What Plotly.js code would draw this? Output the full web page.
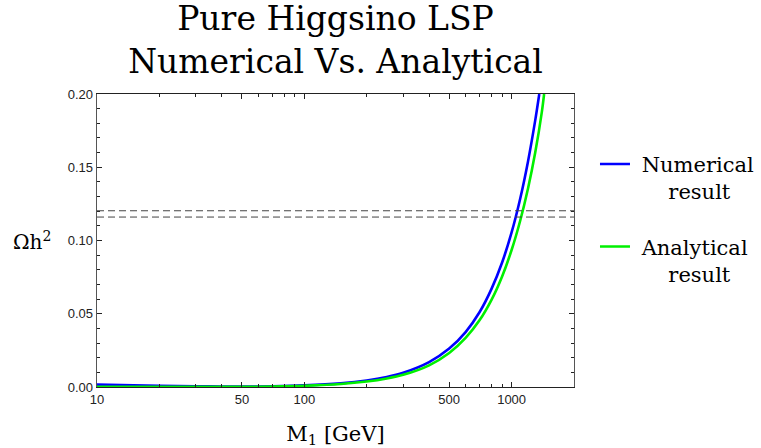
<!DOCTYPE html>
<html>
<head>
<meta charset="utf-8">
<script src="https://cdn.plot.ly/plotly-3.0.1.min.js"></script>
<style>html,body{margin:0;padding:0;background:#fff;}#chart{width:761px;height:448px;}</style>
</head>
<body>
<div id="chart"></div>
<script>
// M1 in GeV
const massNumerical = [10, 15, 20, 30, 40, 50, 70, 100, 150, 200, 250, 300, 400, 500, 600, 700, 800, 900, 1000, 1100, 1200, 1300, 1360];
const omegaNumerical = [0.0016, 0.0012, 0.0009, 0.0005, 0.0003, 0.0003, 0.0005, 0.0011, 0.0025, 0.0044, 0.0068, 0.0097, 0.0170, 0.0262, 0.0375, 0.0510, 0.0670, 0.0850, 0.1055, 0.1285, 0.1540, 0.1820, 0.2000];
const massAnalytical = [10, 20, 30, 50, 70, 100, 150, 200, 250, 300, 400, 500, 600, 700, 800, 900, 1000, 1100, 1200, 1300, 1400, 1435];
const omegaAnalytical = [0.0001, 0.0001, 0.0001, 0.0001, 0.0003, 0.0008, 0.0020, 0.0037, 0.0058, 0.0083, 0.0148, 0.0232, 0.0335, 0.0455, 0.0595, 0.0755, 0.0935, 0.1135, 0.1355, 0.1600, 0.1880, 0.2000];
const relicBand = [0.1160, 0.1203];
const xTickVals = [10, 50, 100, 500, 1000];
const xTickText = ['10', '50', '100', '500', '1000'];
const xMinorVals = [20, 30, 40, 60, 70, 80, 90, 200, 300, 400, 600, 700, 800, 900];
const seriesNames = ['\u00a0Numerical<br>\u00a0\u00a0\u00a0\u00a0\u00a0result', '\u00a0Analytical<br>\u00a0\u00a0\u00a0\u00a0\u00a0result'];

const serif = 'DejaVu Serif, serif';
const sans = 'Liberation Sans, Arial, sans-serif';

const traces = [
  {x: massNumerical, y: omegaNumerical, type: 'scatter', mode: 'lines', name: seriesNames[0],
   legendgroup: 'a', line: {color: '#0000ff', width: 2.6, shape: 'spline', smoothing: 0.8}},
  {x: massAnalytical, y: omegaAnalytical, type: 'scatter', mode: 'lines', name: seriesNames[1],
   legendgroup: 'b', line: {color: '#00f000', width: 2.6, shape: 'spline', smoothing: 0.8}}
];

const shapes = relicBand.map(v => ({
  type: 'line', xref: 'paper', yref: 'y', x0: 0, x1: 1, y0: v, y1: v,
  line: {color: '#444', width: 1, dash: '7px,4px'}
}));

const layout = {
  width: 761, height: 448,
  margin: {l: 97, r: 187, t: 94, b: 61, autoexpand: false},
  paper_bgcolor: '#fff', plot_bgcolor: '#fff',
  title: {text: 'Pure Higgsino LSP<br>Numerical Vs. Analytical', font: {family: serif, size: 33, color: '#000'},
          x: 0.5, xref: 'paper', xanchor: 'center', y: 0.932, yref: 'container', yanchor: 'top'},
  xaxis: {type: 'log', range: [1, Math.log10(2000)], tickmode: 'array', tickvals: xTickVals, ticktext: xTickText,
          ticks: 'inside', ticklen: 5, tickcolor: '#222', showline: true, linecolor: '#222', linewidth: 1.2,
          mirror: 'ticks', showgrid: false, zeroline: false,
          minor: {tickvals: xMinorVals, ticks: 'inside', ticklen: 3, tickcolor: '#222', showgrid: false},
          tickfont: {family: sans, size: 13, color: '#222'},
          title: {text: 'M<sub>1</sub> [GeV]', font: {family: serif, size: 21, color: '#000'}, standoff: 20}},
  yaxis: {range: [0, 0.2], tickmode: 'linear', tick0: 0, dtick: 0.05, tickformat: '.2f',
          ticks: 'inside', ticklen: 5, tickcolor: '#222', showline: true, linecolor: '#555', linewidth: 1.3,
          mirror: 'ticks', showgrid: false, zeroline: false,
          minor: {dtick: 0.01, ticks: 'inside', ticklen: 3, tickcolor: '#222', showgrid: false},
          tickfont: {family: sans, size: 13, color: '#222'}},
  shapes: shapes,
  annotations: [{text: '\u03a9h<sup>2</sup>', xref: 'paper', yref: 'paper', x: -0.136, y: 0.5,
                 xanchor: 'center', yanchor: 'middle', showarrow: false,
                 font: {family: serif, size: 20, color: '#000'}}],
  showlegend: true,
  legend: {x: 1.044, xanchor: 'left', y: 0.83, yanchor: 'top', valign: 'top',
           traceorder: 'grouped', tracegroupgap: 25, bgcolor: 'rgba(0,0,0,0)', borderwidth: 0,
           font: {family: serif, size: 21, color: '#000'}}
};

Plotly.newPlot('chart', traces, layout, {displayModeBar: false, staticPlot: true});
</script>
</body>
</html>
